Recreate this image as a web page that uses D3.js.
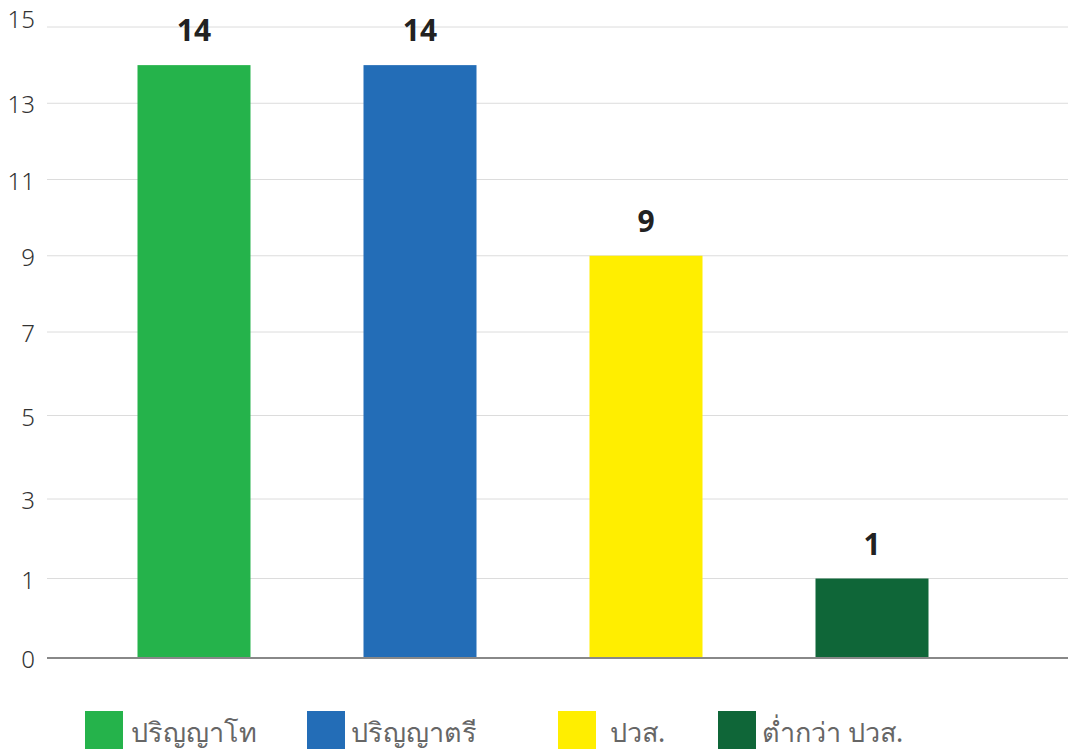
<!DOCTYPE html>
<html>
<head>
<meta charset="utf-8">
<script src="https://cdn.jsdelivr.net/npm/d3@7"></script>
<style>
  body { margin: 0; background: #fff; }
  svg text { font-family: "Noto Sans", "DejaVu Sans", sans-serif; }
</style>
</head>
<body>
<div id="chart"></div>
<script>
const categories = ['ปริญญาโท', 'ปริญญาตรี', 'ปวส.', 'ต่ำกว่า ปวส.']
const values = [14, 14, 9, 1]
const colors = ['#25b34b', '#236db7', '#ffee00', '#0f6638']
const tickValues = [-1, 1, 3, 5, 7, 9, 11, 13, 15]
const tickLabels = ['0', '1', '3', '5', '7', '9', '11', '13', '15']

const width = 1068
const height = 750

const svg = d3.select('#chart').append('svg').attr('width', width).attr('height', height)

const x = d3.scaleBand().domain(categories).range([81, 985]).paddingInner(0.5).paddingOuter(0.25)
// the source picture is slightly unevenly stretched, so the scale is piecewise
const y = d3.scaleLinear().domain([-1, 3, 7, 15]).range([658, 499, 332, 27])

// grid
svg.append('g')
  .selectAll('line')
  .data(tickValues.slice(1))
  .join('line')
  .attr('x1', 47).attr('x2', width)
  .attr('y1', d => y(d)).attr('y2', d => y(d))
  .attr('stroke', '#dcdcdc')
  .attr('stroke-width', 1)

// y labels
svg.append('g')
  .selectAll('text')
  .data(tickValues)
  .join('text')
  .attr('x', 35)
  .attr('y', (d, i) => i == tickValues.length - 1 ? y(d) + 1 : y(d) + (i == 0 ? 10 : 10))
  .attr('text-anchor', 'end')
  .attr('fill', '#333')
  .attr('font-size', 24)
  .attr('font-weight', 300)
  .text((d, i) => tickLabels[i])

// bars
svg.append('g')
  .selectAll('rect')
  .data(values)
  .join('rect')
  .attr('x', (d, i) => x(categories[i]))
  .attr('width', x.bandwidth())
  .attr('y', d => y(d))
  .attr('height', d => y(-1) - y(d))
  .attr('fill', (d, i) => colors[i])

// value labels
svg.append('g')
  .selectAll('text')
  .data(values)
  .join('text')
  .attr('x', (d, i) => x(categories[i]) + x.bandwidth() / 2)
  .attr('y', d => y(d) - 24)
  .attr('text-anchor', 'middle')
  .attr('font-size', 30)
  .attr('font-weight', 'bold')
  .attr('fill', '#222')
  .text(d => d)

// baseline
svg.append('line')
  .attr('x1', 47).attr('x2', width)
  .attr('y1', y(-1)).attr('y2', y(-1))
  .attr('stroke', '#888')
  .attr('stroke-width', 2)

// legend
const legendX = [85, 307, 558, 718]
const legendGap = [8, 6, 14, 6]
const legend = svg.append('g')
  .selectAll('g')
  .data(categories)
  .join('g')
  .attr('transform', (d, i) => `translate(${legendX[i]},711)`)

legend.append('rect')
  .attr('width', 38).attr('height', 38)
  .attr('fill', (d, i) => colors[i])

legend.append('text')
  .attr('x', (d, i) => 38 + legendGap[i])
  .attr('y', 31)
  .attr('font-size', 27)
  .attr('fill', '#666')
  .text(d => d)
</script>
</body>
</html>
